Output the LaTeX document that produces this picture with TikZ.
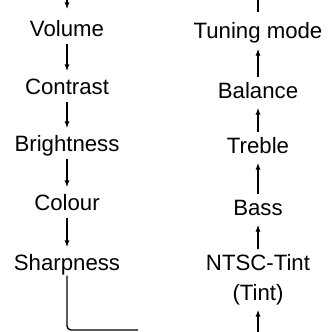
\documentclass[tikz,border=0pt]{standalone}
\usepackage{fontspec}
\setmainfont{Liberation Sans}
\usetikzlibrary{arrows.meta}
\begin{document}
\begin{tikzpicture}[x=0.5pt,y=-0.5pt,line width=0.7pt,
    >={Latex[length=3.5pt,width=2.6pt]}]
\tikzstyle{item}=[anchor=base, font=\fontsize{11.1}{13}\selectfont,
    inner xsep=0pt, inner ysep=2pt, text height=8pt, text depth=1.5pt]
\tikzstyle{go}=[->, shorten >=1pt]
    \useasboundingbox (0,0) rectangle (329,332);
    \node (vol) [item] at (67,36) {Volume};
    \node (con) [item] at (67,94) {Contrast};
    \node (bri) [item] at (67,151) {Brightness};
    \node (col) [item] at (67,210) {Colour};
    \node (sha) [item] at (67,270) {Sharpness};
    \node (tun) [item] at (258,39) {Tuning mode};
    \node (bal) [item] at (258,98) {Balance};
    \node (tre) [item] at (258,153) {Treble};
    \node (bas) [item] at (258,215) {Bass};
    \node (nts) [item] at (258,270) {NTSC-Tint};
    \node (tin) [item] at (258,300) {(Tint)};
    \coordinate (ltop) at (67,0);
    \coordinate (rtop) at (258,0);
    \coordinate (rend) at (258,12);
    \coordinate (lcor) at (67,330);
    \coordinate (lend) at (138,330);
    \coordinate (rbot) at (258,332);
    \draw[go, shorten >=3pt] (ltop) -- (vol);
    \draw[go] (vol) -- (con);
    \draw[go] (con) -- (bri);
    \draw[go] (bri) -- (col);
    \draw[go] (col) -- (sha);
    \draw[rounded corners=2pt] (sha) ++(0,12) -- (lcor) -- (lend);
    \draw (rtop) -- (rend);
    \draw[go] (bal) -- (tun);
    \draw[go] (tre) -- (bal);
    \draw[go] (bas) -- (tre);
    \draw[go] (nts) -- (bas);
    \draw[go] (rbot) -- (tin);
\end{tikzpicture}
\end{document}
